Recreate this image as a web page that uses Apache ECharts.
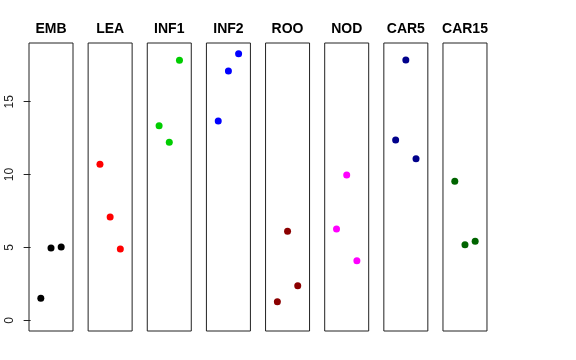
<!DOCTYPE html>
<html><head><meta charset="utf-8">
<script src="https://cdn.jsdelivr.net/npm/echarts@6/dist/echarts.min.js"></script>
<style>html,body{margin:0;padding:0;background:#fff}#c{width:576px;height:360px}</style>
</head><body><div id="c"></div>
<script>
const panels = ["EMB","LEA","INF1","INF2","ROO","NOD","CAR5","CAR15"];
const colors = ["#000000","#FF0000","#00CD00","#0000FF","#8B0000","#FF00FF","#00008B","#006400"];
const xPositions = [1,2,3];
const EMB = [1.51, 4.96, 5.03];
const LEA = [10.71, 7.09, 4.89];
const INF1 = [13.36, 12.22, 17.84];
const INF2 = [13.68, 17.11, 18.30];
const ROO = [1.28, 6.11, 2.38];
const NOD = [6.27, 9.97, 4.09];
const CAR5 = [12.37, 17.87, 11.09];
const CAR15 = [9.54, 5.19, 5.42];
const yTicks = [0, 5, 10, 15];
const values = [EMB, LEA, INF1, INF2, ROO, NOD, CAR5, CAR15];

const chart = echarts.init(document.getElementById('c'), null, {renderer:'canvas'});
const grids = [], xAxes = [], yAxes = [], series = [], titles = [];
const L0 = 29, step = 59.14, W = 44, TOP = 43, H = 288;
panels.forEach((name, i) => {
  const left = L0 + i * step;
  grids.push({left: left, top: TOP, width: W, height: H, show: true, borderColor: '#222', borderWidth: 1, backgroundColor: 'transparent'});
  xAxes.push({gridIndex: i, type: 'value', min: -0.16, max: 4.16, show: false});
  yAxes.push({gridIndex: i, type: 'value', min: -0.73, max: 19.03,
    show: i === 0,
    splitLine: {show: false},
    axisLine: {show: false},
    axisTick: {show: true, inside: false, length: 7, lineStyle: {color: '#222'}, customValues: yTicks},
    axisLabel: {show: true, rotate: 90, margin: 13, fontSize: 12, color: '#222', fontFamily: 'Liberation Sans', customValues: yTicks}
  });
  series.push({type: 'scatter', xAxisIndex: i, yAxisIndex: i, symbol: 'circle', symbolSize: 7,
    itemStyle: {color: colors[i], opacity: 1},
    data: xPositions.map((x, k) => [x, values[i][k]]), silent: true, animation: false});
  titles.push({text: name, left: left + W / 2, top: 22, textAlign: 'center', padding: 0,
    textStyle: {fontSize: 14, fontWeight: 'bold', color: '#000', fontFamily: 'Liberation Sans'}});
});
chart.setOption({animation: false, title: titles, grid: grids, xAxis: xAxes, yAxis: yAxes, series: series});
</script></body></html>
